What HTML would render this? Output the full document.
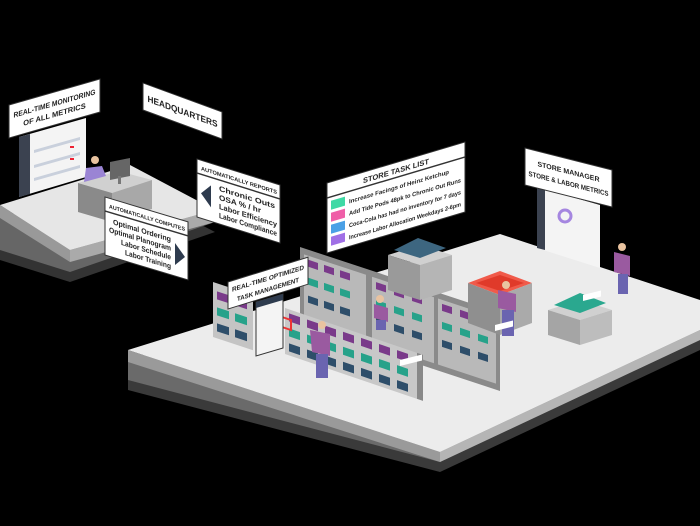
<!DOCTYPE html>
<html><head><meta charset="utf-8"><style>
html,body{margin:0;padding:0;background:#000;}
svg{display:block}
text{font-family:"Liberation Sans",sans-serif;fill:#222;font-weight:bold}
</style></head><body>
<svg width="700" height="526" viewBox="0 0 700 526" xmlns="http://www.w3.org/2000/svg">
<rect width="700" height="526" fill="#000"/>
<polygon points="128,370 500,254 700,320 700,350 440,472 128,390" fill="#3a3a3a"/>
<polygon points="128,360 500,244 700,310 700,340 440,462 128,380" fill="#6a6a6a"/>
<polygon points="128,350 440,452 440,462 128,362" fill="#9a9a9a"/>
<polygon points="440,452 700,330 700,340 440,462" fill="#b5b5b5"/>
<polygon points="128,350 500,234 700,300 700,330 440,452" fill="#ececec"/>
<polygon points="0,228 130,188 215,232 70,282 0,260" fill="#333"/>
<polygon points="0,218 130,178 215,222 70,272 0,250" fill="#666"/>
<polygon points="0,205 70,250 70,262 0,218" fill="#999"/>
<polygon points="70,250 215,210 215,222 70,262" fill="#aaa"/>
<polygon points="0,205 130,165 215,210 70,250" fill="#e6e6e6"/>
<polygon points="19,137 86,118 86,177 19,197" fill="#f4f4f4"/>
<polygon points="19,137 30,134 30,194 19,197" fill="#3b4250"/>
<g fill="#c9d0dc"><polygon points="34,150 80,137 80,140 34,153"/><polygon points="34,165 80,152 80,155 34,168"/><polygon points="34,178 80,165 80,168 34,181"/></g>
<g fill="#e23"><rect x="70" y="146" width="4" height="2"/><rect x="70" y="158" width="4" height="2"/></g>
<polygon points="78,183 118,171 152,180 112,193" fill="#d0d0d0"/>
<polygon points="78,183 112,193 112,222 78,212" fill="#8a8a8a"/>
<polygon points="112,193 152,180 152,209 112,222" fill="#a8a8a8"/>
<polygon points="110,162 130,158 130,176 110,180" fill="#666"/>
<rect x="118" y="176" width="3" height="8" fill="#777"/>
<circle cx="95" cy="160" r="4" fill="#e9c3a0"/>
<polygon points="86,168 102,166 106,176 84,182" fill="#9a84d4"/>
<g transform="matrix(1,0.33,0,1,300,247)">
<rect x="0" y="0" width="200" height="78" fill="#8a8a8a"/>
<rect x="4" y="6" width="62" height="66" fill="#b9b9b9"/>
<rect x="72" y="6" width="62" height="66" fill="#b9b9b9"/>
<rect x="138" y="6" width="58" height="66" fill="#b9b9b9"/>
<g>
<rect x="8" y="10" width="10" height="7" fill="#7a3a8a"/><rect x="24" y="10" width="10" height="7" fill="#7a3a8a"/><rect x="40" y="10" width="10" height="7" fill="#7a3a8a"/>
<rect x="8" y="28" width="10" height="7" fill="#27a28a"/><rect x="24" y="28" width="10" height="7" fill="#27a28a"/><rect x="40" y="28" width="10" height="7" fill="#27a28a"/>
<rect x="8" y="46" width="10" height="7" fill="#2e4e6a"/><rect x="24" y="46" width="10" height="7" fill="#2e4e6a"/><rect x="40" y="46" width="10" height="7" fill="#2e4e6a"/>
<rect x="76" y="10" width="10" height="7" fill="#7a3a8a"/><rect x="94" y="10" width="10" height="7" fill="#7a3a8a"/><rect x="112" y="10" width="10" height="7" fill="#7a3a8a"/>
<rect x="76" y="28" width="10" height="7" fill="#27a28a"/><rect x="94" y="28" width="10" height="7" fill="#27a28a"/><rect x="112" y="28" width="10" height="7" fill="#27a28a"/>
<rect x="76" y="46" width="10" height="7" fill="#2e4e6a"/><rect x="94" y="46" width="10" height="7" fill="#2e4e6a"/><rect x="112" y="46" width="10" height="7" fill="#2e4e6a"/>
<rect x="142" y="10" width="10" height="7" fill="#7a3a8a"/><rect x="160" y="10" width="10" height="7" fill="#7a3a8a"/><rect x="178" y="10" width="10" height="7" fill="#7a3a8a"/>
<rect x="142" y="28" width="10" height="7" fill="#27a28a"/><rect x="160" y="28" width="10" height="7" fill="#27a28a"/><rect x="178" y="28" width="10" height="7" fill="#27a28a"/>
<rect x="142" y="46" width="10" height="7" fill="#2e4e6a"/><rect x="160" y="46" width="10" height="7" fill="#2e4e6a"/><rect x="178" y="46" width="10" height="7" fill="#2e4e6a"/>
</g></g>
<g transform="matrix(1,0.33,0,1,213,282)">
<rect x="0" y="0" width="40" height="55" fill="#c4c4c4"/>
<rect x="4" y="8" width="12" height="8" fill="#7a3a8a"/><rect x="22" y="8" width="12" height="8" fill="#7a3a8a"/>
<rect x="4" y="24" width="12" height="8" fill="#27a28a"/><rect x="22" y="24" width="12" height="8" fill="#27a28a"/>
<rect x="4" y="40" width="12" height="8" fill="#2e4e6a"/><rect x="22" y="40" width="12" height="8" fill="#2e4e6a"/>
</g>
<g transform="matrix(1,0.34,0,1,285,308)">
<rect x="0" y="0" width="132" height="46" fill="#c8c8c8"/>
<rect x="132" y="0" width="6" height="46" fill="#888"/>
<g fill="#7a3a8a"><rect x="4" y="4" width="11" height="8"/><rect x="22" y="4" width="11" height="8"/><rect x="40" y="4" width="11" height="8"/><rect x="58" y="4" width="11" height="8"/><rect x="76" y="4" width="11" height="8"/><rect x="94" y="4" width="11" height="8"/><rect x="112" y="4" width="11" height="8"/></g>
<g fill="#27a28a"><rect x="4" y="19" width="11" height="8"/><rect x="22" y="19" width="11" height="8"/><rect x="40" y="19" width="11" height="8"/><rect x="58" y="19" width="11" height="8"/><rect x="76" y="19" width="11" height="8"/><rect x="94" y="19" width="11" height="8"/><rect x="112" y="19" width="11" height="8"/></g>
<g fill="#2e4e6a"><rect x="4" y="34" width="11" height="8"/><rect x="22" y="34" width="11" height="8"/><rect x="40" y="34" width="11" height="8"/><rect x="58" y="34" width="11" height="8"/><rect x="76" y="34" width="11" height="8"/><rect x="94" y="34" width="11" height="8"/><rect x="112" y="34" width="11" height="8"/></g>
<rect x="-6" y="10" width="12" height="10" fill="none" stroke="#e33" stroke-width="2"/>
</g>
<polygon points="256,302 283,294 283,348 256,356" fill="#f4f4f4" stroke="#333" stroke-width="1"/>
<polygon points="256,302 283,294 283,300 256,308" fill="#2e3b4e"/>
<polygon points="388,255 420,245 452,255 420,265" fill="#d0d0d0"/>
<polygon points="388,255 420,265 420,300 388,290" fill="#9a9a9a"/>
<polygon points="420,265 452,255 452,290 420,300" fill="#b5b5b5"/>
<polygon points="394,250 418,238 446,248 420,258" fill="#3d6680"/>
<polygon points="468,283 500,271 532,283 500,295" fill="#f05a4a"/>
<polygon points="476,283 500,275 524,283 500,291" fill="#e03a2a"/>
<polygon points="468,283 500,295 500,335 468,323" fill="#8f8f8f"/>
<polygon points="500,295 532,283 532,323 500,335" fill="#aaaaaa"/>
<polygon points="548,310 580,300 612,310 580,320" fill="#d0d0d0"/>
<polygon points="548,310 580,320 580,345 548,335" fill="#a5a5a5"/>
<polygon points="580,320 612,310 612,335 580,345" fill="#bdbdbd"/>
<polygon points="554,305 580,293 606,303 580,313" fill="#2aa88f"/>
<polygon points="537,187 600,205 600,268 537,248" fill="#f4f4f4"/>
<polygon points="537,187 545,189 545,250 537,248" fill="#3b4250"/>
<circle cx="565" cy="216" r="6" fill="none" stroke="#a586e0" stroke-width="3"/>
<g fill="#9a5aa0"><polygon points="310,330 330,334 330,356 312,352"/><polygon points="374,304 388,308 388,322 374,318"/><polygon points="498,290 516,294 516,312 498,308"/><polygon points="614,252 630,256 630,276 614,272"/></g>
<g fill="#6a64b0"><rect x="316" y="354" width="12" height="24"/><rect x="376" y="320" width="10" height="10"/><rect x="502" y="310" width="12" height="26"/><rect x="618" y="274" width="10" height="20"/></g>
<g fill="#e9c3a0"><circle cx="322" cy="325" r="4"/><circle cx="380" cy="299" r="4"/><circle cx="506" cy="285" r="4"/><circle cx="622" cy="247" r="4"/></g>
<g transform="matrix(1,-0.25,0,1,400,360)"><rect width="22" height="6" fill="#fff"/></g>
<g transform="matrix(1,-0.25,0,1,495,325)"><rect width="18" height="6" fill="#fff"/></g>
<g transform="matrix(1,-0.25,0,1,583,295)"><rect width="18" height="6" fill="#fff"/></g>
<g transform="matrix(1,-0.286,0,1,9,105)">
<rect width="91" height="33" fill="#fff" stroke="#333"/>
<text x="45.5" y="14" font-size="7.5" text-anchor="middle" textLength="82" lengthAdjust="spacingAndGlyphs">REAL-TIME MONITORING</text>
<text x="45.5" y="25" font-size="7.5" text-anchor="middle">OF ALL METRICS</text></g>
<g transform="matrix(1,0.367,0,1,143,83)">
<rect width="79" height="27" fill="#fff" stroke="#333"/>
<text x="39.5" y="17" font-size="9" text-anchor="middle" textLength="70" lengthAdjust="spacingAndGlyphs">HEADQUARTERS</text></g>
<g transform="matrix(1,0.313,0,1,197,159)">
<rect width="83" height="58" fill="#fff" stroke="#333"/>
<text x="42" y="10" font-size="5.5" text-anchor="middle" textLength="76" lengthAdjust="spacingAndGlyphs">AUTOMATICALLY REPORTS</text>
<line x1="0" y1="14" x2="83" y2="14" stroke="#333" stroke-width="1.5"/>
<polygon points="4,33 14,22 14,44" fill="#2e3b4e"/>
<text x="22" y="25" font-size="7.5" textLength="56" lengthAdjust="spacingAndGlyphs">Chronic Outs</text>
<text x="22" y="34" font-size="7.5" textLength="42" lengthAdjust="spacingAndGlyphs">OSA % / hr</text>
<text x="22" y="43" font-size="7.5" textLength="58" lengthAdjust="spacingAndGlyphs">Labor Efficiency</text>
<text x="22" y="52" font-size="7.5" textLength="58" lengthAdjust="spacingAndGlyphs">Labor Compliance</text></g>
<g transform="matrix(1,0.30,0,1,105,197)">
<rect width="83" height="58" fill="#fff" stroke="#333"/>
<text x="42" y="10" font-size="5.5" text-anchor="middle" textLength="76" lengthAdjust="spacingAndGlyphs">AUTOMATICALLY COMPUTES</text>
<line x1="0" y1="14" x2="83" y2="14" stroke="#333" stroke-width="1.5"/>
<polygon points="80,36 70,25 70,47" fill="#2e3b4e"/>
<text x="66" y="25" font-size="7.5" text-anchor="end" textLength="58" lengthAdjust="spacingAndGlyphs">Optimal Ordering</text>
<text x="66" y="34" font-size="7.5" text-anchor="end" textLength="62" lengthAdjust="spacingAndGlyphs">Optimal Planogram</text>
<text x="66" y="43" font-size="7.5" text-anchor="end" textLength="50" lengthAdjust="spacingAndGlyphs">Labor Schedule</text>
<text x="66" y="52" font-size="7.5" text-anchor="end" textLength="46" lengthAdjust="spacingAndGlyphs">Labor Training</text></g>
<g transform="matrix(1,-0.297,0,1,327,183)">
<rect width="138" height="70" fill="#fff" stroke="#333"/>
<text x="69" y="11" font-size="7.5" text-anchor="middle">STORE TASK LIST</text>
<line x1="0" y1="15" x2="138" y2="15" stroke="#333" stroke-width="1.5"/>
<rect x="4" y="19" width="14" height="9" fill="#3fd9a5"/>
<rect x="4" y="31" width="14" height="9" fill="#ef5fa8"/>
<rect x="4" y="43" width="14" height="9" fill="#4aa0e6"/>
<rect x="4" y="55" width="14" height="9" fill="#a070e6"/>
<text x="22" y="27" font-size="6" textLength="100" lengthAdjust="spacingAndGlyphs">Increase Facings of Heinz Ketchup</text>
<text x="22" y="39" font-size="6" textLength="112" lengthAdjust="spacingAndGlyphs">Add Tide Pods 48pk to Chronic Out Runs</text>
<text x="22" y="51" font-size="6" textLength="112" lengthAdjust="spacingAndGlyphs">Coca-Cola has had no inventory for 7 days</text>
<text x="22" y="63" font-size="6" textLength="112" lengthAdjust="spacingAndGlyphs">Increase Labor Allocation Weekdays 2-6pm</text></g>
<g transform="matrix(1,0.253,0,1,525,148)">
<rect width="87" height="37" fill="#fff" stroke="#333"/>
<text x="43.5" y="15" font-size="7" text-anchor="middle">STORE MANAGER</text>
<text x="43.5" y="27" font-size="7" text-anchor="middle" textLength="80" lengthAdjust="spacingAndGlyphs">STORE &amp; LABOR METRICS</text></g>
<g transform="matrix(1,-0.31,0,1,228,282)">
<rect width="80" height="27" fill="#fff" stroke="#333"/>
<text x="40" y="11" font-size="6.5" text-anchor="middle" textLength="72" lengthAdjust="spacingAndGlyphs">REAL-TIME OPTIMIZED</text>
<text x="40" y="22" font-size="6.5" text-anchor="middle" textLength="62" lengthAdjust="spacingAndGlyphs">TASK MANAGEMENT</text></g>
</svg>
</body></html>
